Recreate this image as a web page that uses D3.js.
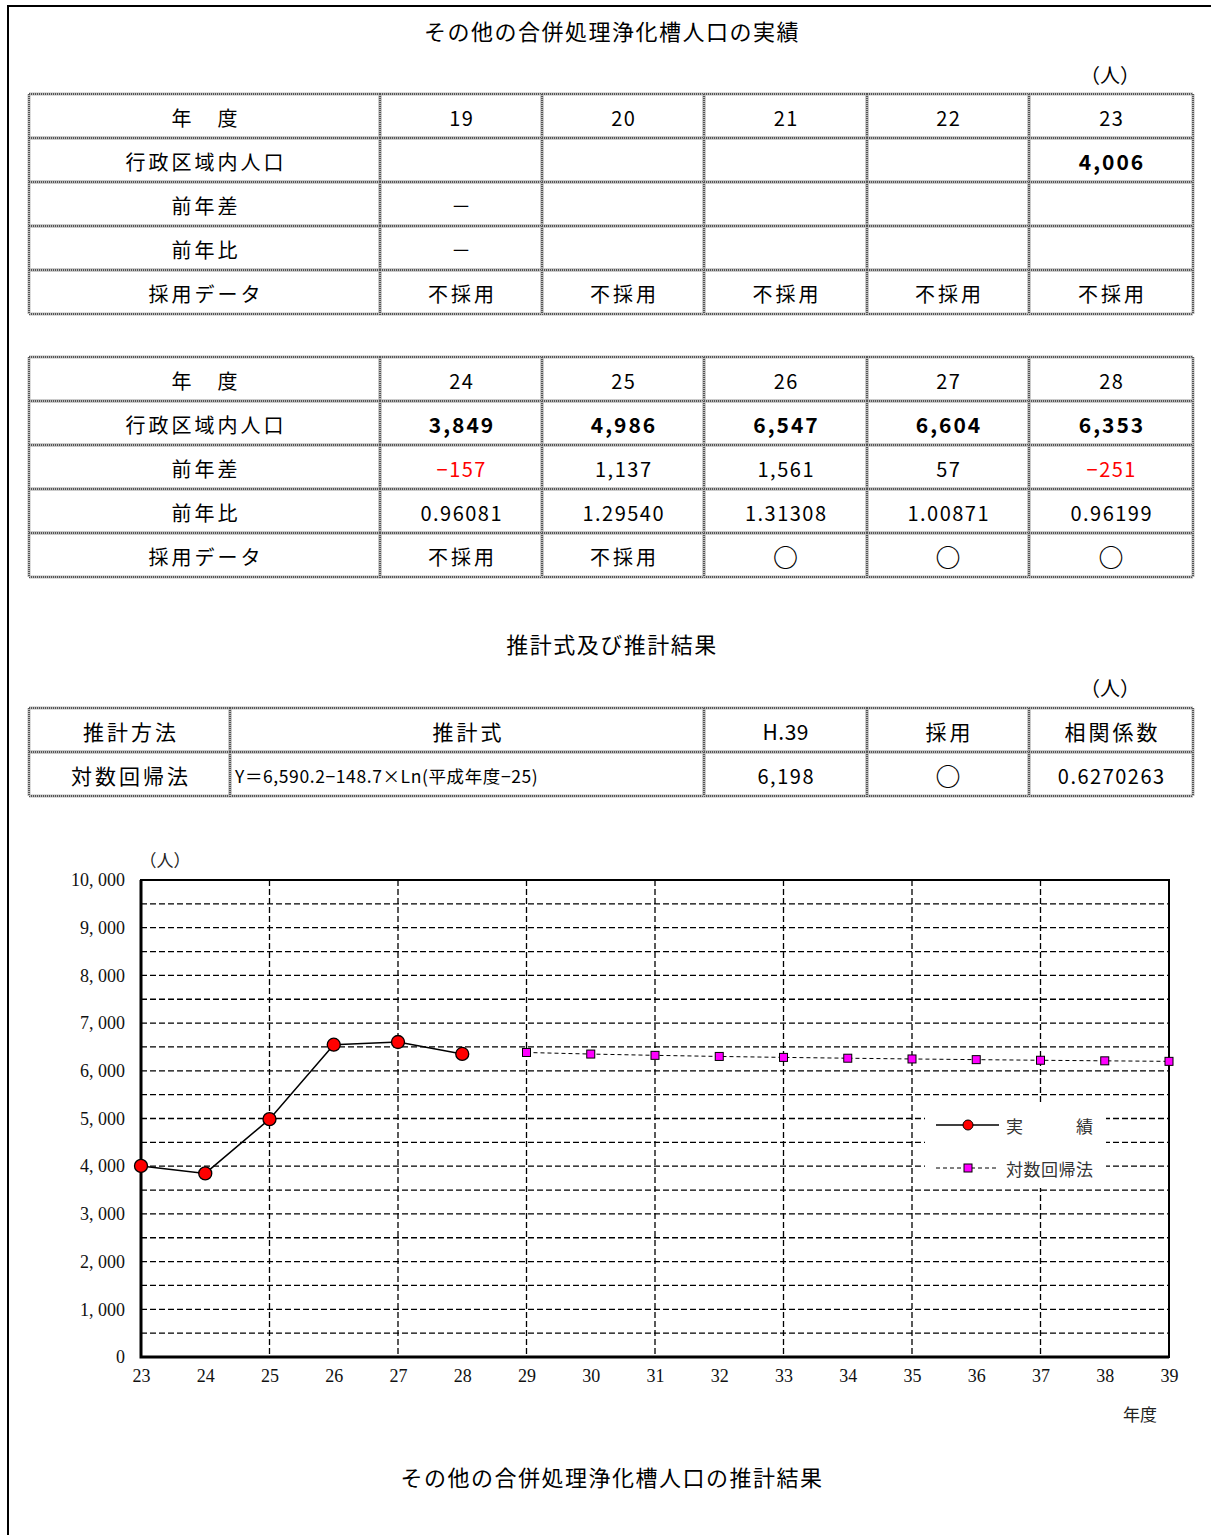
<!DOCTYPE html>
<html>
<head>
<meta charset="utf-8">
<script src="https://cdn.jsdelivr.net/npm/d3@7"></script>
<style>
  body { margin: 0; background: #fff; }
  .canvas text { font-family: "Noto Sans CJK JP", "Noto Sans", sans-serif; }
  .canvas text.serif { font-family: "Liberation Serif", "DejaVu Serif", serif; }
</style>
</head>
<body>
<div class="canvas"></div>
<script>
// ---- data ----
const rowLabels = ['年　度', '行政区域内人口', '前年差', '前年比', '採用データ'];

const years1 = ['19', '20', '21', '22', '23'];
const pop1 = [null, null, null, null, 4006];
const diff1 = ['－', '', '', '', ''];
const ratio1 = ['－', '', '', '', ''];
const adopt1 = ['不採用', '不採用', '不採用', '不採用', '不採用'];

const years2 = ['24', '25', '26', '27', '28'];
const pop2 = [3849, 4986, 6547, 6604, 6353];
const diff2 = [-157, 1137, 1561, 57, -251];
const ratio2 = ['0.96081', '1.29540', '1.31308', '1.00871', '0.96199'];
const adopt2 = ['不採用', '不採用', '○', '○', '○'];

const estHeaders = ['推計方法', '推計式', 'H.39', '採用', '相関係数'];
const estRow = ['対数回帰法', 'Y＝6,590.2−148.7×Ln(平成年度−25)', '6,198', '○', '0.6270263'];

const actualYears = [23, 24, 25, 26, 27, 28];
const actualValues = [4006, 3849, 4986, 6547, 6604, 6353];
const projYears = [29, 30, 31, 32, 33, 34, 35, 36, 37, 38, 39];
const projValues = [6384, 6351, 6324, 6301, 6281, 6264, 6248, 6234, 6221, 6209, 6198];

const yTicks = [0, 1000, 2000, 3000, 4000, 5000, 6000, 7000, 8000, 9000, 10000];
const xTicks = d3.range(23, 40);
const legendItems = ['実　　　績', '対数回帰法'];

// ---- page ----
const W = 1211, H = 1535;
const svg = d3.select('.canvas').append('svg')
    .attr('width', W).attr('height', H);

// page frame
svg.append('path')
    .attr('d', `M8,${H} V6 H${W}`)
    .attr('fill', 'none').attr('stroke', '#000').attr('stroke-width', 2);

const fmt = d3.format(',');

const drawBorder = (g, x1, y1, x2, y2) => {
    [[x1, y1, x2, y1], [x1, y2, x2, y2], [x1, y1, x1, y2], [x2, y1, x2, y2]].forEach(l => {
        g.append('line').attr('x1', l[0]).attr('y1', l[1]).attr('x2', l[2]).attr('y2', l[3])
            .attr('stroke', '#bbb').attr('stroke-width', 3);
        g.append('line').attr('x1', l[0]).attr('y1', l[1]).attr('x2', l[2]).attr('y2', l[3])
            .attr('stroke', '#555').attr('stroke-width', 2).attr('stroke-dasharray', '1 1');
    });
};

// generic table: rows = array of arrays of {t, bold, color, anchor, size, ls}
const drawTable = (top, colX, rowH, rows) => {
    const g = svg.append('g');
    rows.forEach((row, r) => {
        row.forEach((cell, c) => {
            const x1 = colX[c], x2 = colX[c + 1];
            const y1 = top + r * rowH, y2 = y1 + rowH;
            drawBorder(g, x1, y1, x2, y2);
            const left = cell.anchor === 'start';
            const circle = cell.t === '○';
            const ls = cell.ls != null ? cell.ls : (/[0-9]/.test(cell.t) ? 1.5 : 3);
            g.append('text')
                .attr('x', left ? x1 + 5 : (x1 + x2) / 2 + (left ? 0 : ls / 2))
                .attr('y', (y1 + y2) / 2 + 1)
                .attr('text-anchor', left ? 'start' : 'middle')
                .attr('dominant-baseline', 'central')
                .attr('font-size', circle ? 25 : (cell.size || 20))
                .attr('font-weight', cell.bold || circle ? 'bold' : 'normal')
                .attr('letter-spacing', ls)
                .attr('fill', cell.color || '#000')
                .text(cell.t);
        });
    });
};

const colX = [29, 380, 542, 704, 867, 1029, 1193];

const buildRows = (years, pop, diff, ratio, adopt) => [
    [{ t: rowLabels[0] }, ...years.map(v => ({ t: v }))],
    [{ t: rowLabels[1] }, ...pop.map(v => ({ t: v == null ? '' : fmt(v), bold: true, size: 21, ls: 2 }))],
    [{ t: rowLabels[2] }, ...diff.map(v => typeof v === 'number'
        ? { t: v < 0 ? '−' + fmt(-v) : fmt(v), color: v < 0 ? '#ff0000' : '#000' }
        : { t: v })],
    [{ t: rowLabels[3] }, ...ratio.map(v => ({ t: v }))],
    [{ t: rowLabels[4] }, ...adopt.map(v => ({ t: v }))]
];

const heading = (txt, x, y, size, anchor, ls) => svg.append('text')
    .attr('x', x).attr('y', y)
    .attr('text-anchor', anchor || 'middle')
    .attr('dominant-baseline', 'central')
    .attr('font-size', size)
    .attr('letter-spacing', ls || 0)
    .text(txt);

heading('その他の合併処理浄化槽人口の実績', 612, 30, 22, 'middle', 1.5);
heading('（人）', 1110, 74, 20);
drawTable(94, colX, 44, buildRows(years1, pop1, diff1, ratio1, adopt1));
drawTable(357, colX, 44, buildRows(years2, pop2, diff2, ratio2, adopt2));

heading('推計式及び推計結果', 612, 643, 22, 'middle', 1.5);
heading('（人）', 1110, 687, 20);
drawTable(708, [29, 230, 704, 867, 1029, 1193], 44, [
    estHeaders.map(v => ({ t: v, size: 21, ls: /[0-9]/.test(v) ? 0.5 : 3 })),
    estRow.map((v, i) => ({ t: v, anchor: i === 1 ? 'start' : 'middle',
        size: i === 1 ? 17.5 : (i === 0 ? 21 : 20), ls: i === 1 ? 0.6 : (i === 0 ? 3 : 1.5) }))
]);

// ---- chart ----
const x = d3.scaleLinear().domain([23, 39]).range([141, 1169]);
const y = d3.scaleLinear().domain([0, 10000]).range([1357, 880]);
const chart = svg.append('g');

// horizontal grid every 500
chart.append('g').selectAll('line')
    .data(d3.range(500, 10000, 500))
    .join('line')
    .attr('x1', x(23)).attr('x2', x(39))
    .attr('y1', d => y(d)).attr('y2', d => y(d))
    .attr('stroke', '#000').attr('stroke-width', 1.3).attr('stroke-dasharray', '6 3');

// vertical grid every 2 years
chart.append('g').selectAll('line')
    .data(d3.range(25, 39, 2))
    .join('line')
    .attr('x1', d => x(d)).attr('x2', d => x(d))
    .attr('y1', y(10000)).attr('y2', y(0))
    .attr('stroke', '#000').attr('stroke-width', 1.3).attr('stroke-dasharray', '6 3');

// frame
chart.append('rect')
    .attr('x', x(23)).attr('y', y(10000))
    .attr('width', x(39) - x(23)).attr('height', y(0) - y(10000))
    .attr('fill', 'none').attr('stroke', '#000').attr('stroke-width', 2);
chart.append('path')
    .attr('d', `M${x(23)},${y(10000)} V${y(0)} H${x(39)}`)
    .attr('fill', 'none').attr('stroke', '#000').attr('stroke-width', 3);

// y axis labels
const yAxis = d3.axisLeft(y).tickValues(yTicks).tickSize(0).tickPadding(16)
    .tickFormat(d => d3.format(',')(d).replace(',', ', '));
chart.append('g')
    .attr('transform', `translate(${x(23)},0)`)
    .call(yAxis)
    .call(g => g.select('.domain').remove())
    .selectAll('text')
    .attr('class', 'serif')
    .attr('font-size', 18).attr('fill', '#111');

// x axis labels
const xAxis = d3.axisBottom(x).tickValues(xTicks).tickSize(0).tickPadding(12)
    .tickFormat(d => d);
chart.append('g')
    .attr('transform', `translate(0,${y(0)})`)
    .call(xAxis)
    .call(g => g.select('.domain').remove())
    .selectAll('text')
    .attr('class', 'serif')
    .attr('font-size', 18).attr('fill', '#111');

heading('（人）', 165, 859, 17).attr('fill', '#222');
heading('年度', 1140, 1413, 17).attr('fill', '#222');

// legend box (covers grid)
const lg = chart.append('g');
lg.append('rect')
    .attr('x', 925).attr('y', 1103).attr('width', 181).attr('height', 85)
    .attr('fill', '#fff');

// projection series
const line = d3.line().x(d => x(d[0])).y(d => y(d[1]));
const proj = d3.zip(projYears, projValues);
chart.append('path')
    .datum(proj)
    .attr('d', line)
    .attr('fill', 'none').attr('stroke', '#000').attr('stroke-width', 1)
    .attr('stroke-dasharray', '4 3');
chart.append('g').selectAll('rect')
    .data(proj)
    .join('rect')
    .attr('x', d => x(d[0]) - 4).attr('y', d => y(d[1]) - 4)
    .attr('width', 8).attr('height', 8)
    .attr('fill', '#ff00ff').attr('stroke', '#000').attr('stroke-width', 1);

// actual series
const act = d3.zip(actualYears, actualValues);
chart.append('path')
    .datum(act)
    .attr('d', line)
    .attr('fill', 'none').attr('stroke', '#000').attr('stroke-width', 1.5);
chart.append('g').selectAll('circle')
    .data(act)
    .join('circle')
    .attr('cx', d => x(d[0])).attr('cy', d => y(d[1]))
    .attr('r', 6.5)
    .attr('fill', '#ff0000').attr('stroke', '#000').attr('stroke-width', 1.3);

// legend entries
legendItems.forEach((name, i) => {
    const ly = 1125 + i * 43;
    lg.append('line')
        .attr('x1', 936).attr('x2', 999).attr('y1', ly).attr('y2', ly)
        .attr('stroke', '#000').attr('stroke-width', i === 0 ? 1.5 : 1)
        .attr('stroke-dasharray', i === 0 ? null : '4 3');
    if (i === 0) {
        lg.append('circle').attr('cx', 968).attr('cy', ly).attr('r', 5)
            .attr('fill', '#ff0000').attr('stroke', '#000').attr('stroke-width', 1);
    } else {
        lg.append('rect').attr('x', 964).attr('y', ly - 4).attr('width', 8).attr('height', 8)
            .attr('fill', '#ff00ff').attr('stroke', '#000').attr('stroke-width', 1);
    }
    lg.append('text')
        .attr('x', 1006).attr('y', ly)
        .attr('dominant-baseline', 'central')
        .attr('font-size', 17).attr('fill', '#333')
        .attr('letter-spacing', 0.5)
        .text(name);
});

heading('その他の合併処理浄化槽人口の推計結果', 612, 1476, 22, 'middle', 1.5);
</script>
</body>
</html>
